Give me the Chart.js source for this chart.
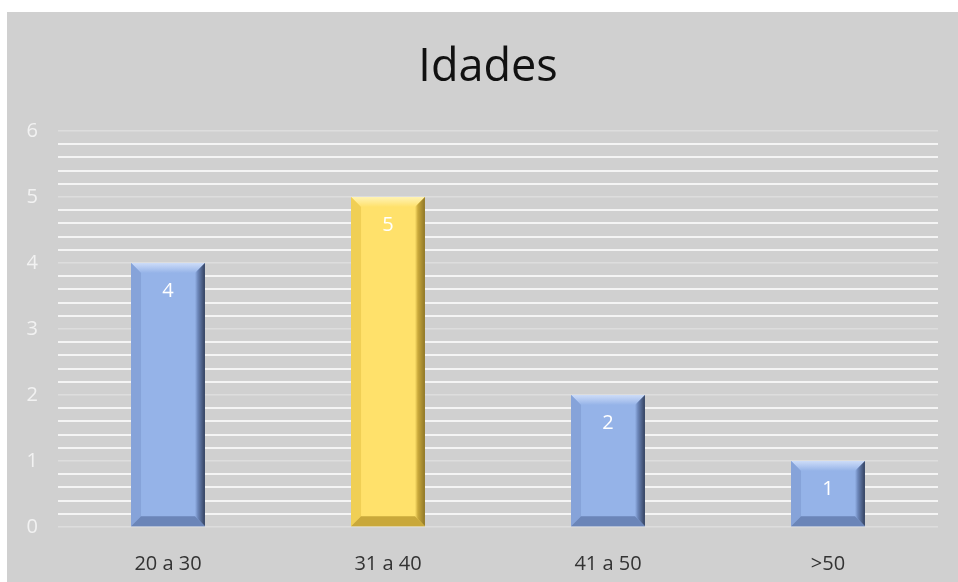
<!DOCTYPE html>
<html>
<head>
<meta charset="utf-8">
<script src="https://cdn.jsdelivr.net/npm/chart.js@4"></script>
<style>
  body { margin: 0; background: #ffffff; }
  #box { position: absolute; left: 7px; top: 12px; width: 951px; height: 570px; background: #d0d0d0; }
</style>
</head>
<body>
<div id="box"><canvas id="idades"></canvas></div>
<script>
const categorias = ["20 a 30", "31 a 40", "41 a 50", ">50"];
const valores = [4, 5, 2, 1];
const destaque = [false, true, false, false];

const azul = { face: "#95b3e8", top: "#cddcf8", left: "#86a3d9", right: "#34425f", bottom: "#6b85b8" };
const amarelo = { face: "#ffe16b", top: "#fff3b5", left: "#f0cf55", right: "#8e7628", bottom: "#c9a83a" };

const isInt = (v) => Math.abs(v - Math.round(v)) < 1e-6;

// desenha o efeito chanfrado de cada barra e o rótulo de valor
const bisel = {
  id: "bisel",
  afterDatasetsDraw(chart) {
    const ctx = chart.ctx;
    const meta = chart.getDatasetMeta(0);
    meta.data.forEach((bar, i) => {
      const c = destaque[i] ? amarelo : azul;
      const l = bar.x - bar.width / 2, r = bar.x + bar.width / 2;
      const t = bar.y, b = bar.base;
      const s = 10;
      const poly = (pts, fill) => {
        ctx.beginPath();
        ctx.moveTo(pts[0][0], pts[0][1]);
        pts.slice(1).forEach((p) => ctx.lineTo(p[0], p[1]));
        ctx.closePath();
        ctx.fillStyle = fill;
        ctx.fill();
      };
      ctx.save();
      poly([[l, t], [r, t], [r, b], [l, b]], c.face);
      let g = ctx.createLinearGradient(0, t, 0, t + s);
      g.addColorStop(0, c.top);
      g.addColorStop(1, c.face);
      poly([[l, t], [r, t], [r - s, t + s], [l + s, t + s]], g);
      poly([[l, t], [l + s, t + s], [l + s, b - s], [l, b]], c.left);
      g = ctx.createLinearGradient(r - s, 0, r, 0);
      g.addColorStop(0, c.face);
      g.addColorStop(0.3, c.bottom);
      g.addColorStop(1, c.right);
      poly([[r, t], [r, b], [r - s, b - s], [r - s, t + s]], g);
      poly([[l, b], [l + s, b - s], [r - s, b - s], [r, b]], c.bottom);
      ctx.fillStyle = "#ffffff";
      ctx.font = "20px 'Open Sans'";
      ctx.textAlign = "center";
      ctx.textBaseline = "middle";
      ctx.fillText(String(valores[i]), bar.x, t + 28);
      ctx.restore();
    });
  },
};

const grafico = new Chart(document.getElementById("idades"), {
  type: "bar",
  data: {
    labels: categorias,
    datasets: [
      {
        data: valores,
        backgroundColor: "rgba(0,0,0,0)",
        barPercentage: 0.336,
        categoryPercentage: 1,
      },
    ],
  },
  options: {
    responsive: true,
    maintainAspectRatio: false,
    animation: false,
    layout: { padding: { left: 11, right: 0, top: 0, bottom: 0 } },
    plugins: {
      legend: { display: false },
      tooltip: { enabled: false },
      title: {
        display: true,
        text: "Idades",
        color: "#111111",
        font: { family: "'Open Sans'", size: 45, weight: "normal" },
        padding: { top: 29, bottom: 36 },
      },
    },
    scales: {
      x: {
        grid: { display: false },
        border: { display: false },
        ticks: { color: "#333333", font: { family: "'Open Sans'", size: 20 }, padding: 17 },
        afterFit: (s) => { s.height = 55; },
      },
      y: {
        min: 0,
        max: 6,
        border: { display: false },
        grid: {
          drawTicks: false,
          color: (ctx) => (isInt(ctx.tick.value) ? "#dddddd" : "#f4f4f4"),
          lineWidth: (ctx) => (isInt(ctx.tick.value) ? 1.5 : 2),
        },
        ticks: {
          stepSize: 0.2,
          autoSkip: false,
          padding: 20,
          color: "#f2f2f2",
          font: { family: "'Open Sans'", size: 20 },
          callback: (v) => (isInt(v) ? String(Math.round(v)) : ""),
        },
        afterFit: (s) => { s.width = 40; },
      },
      margem: {
        position: "right",
        min: 0,
        max: 6,
        border: { display: false },
        grid: { display: false, drawTicks: false },
        ticks: { display: false },
        afterFit: (s) => { s.width = 20; },
      },
    },
  },
  plugins: [bisel],
});
</script>
</body>
</html>
